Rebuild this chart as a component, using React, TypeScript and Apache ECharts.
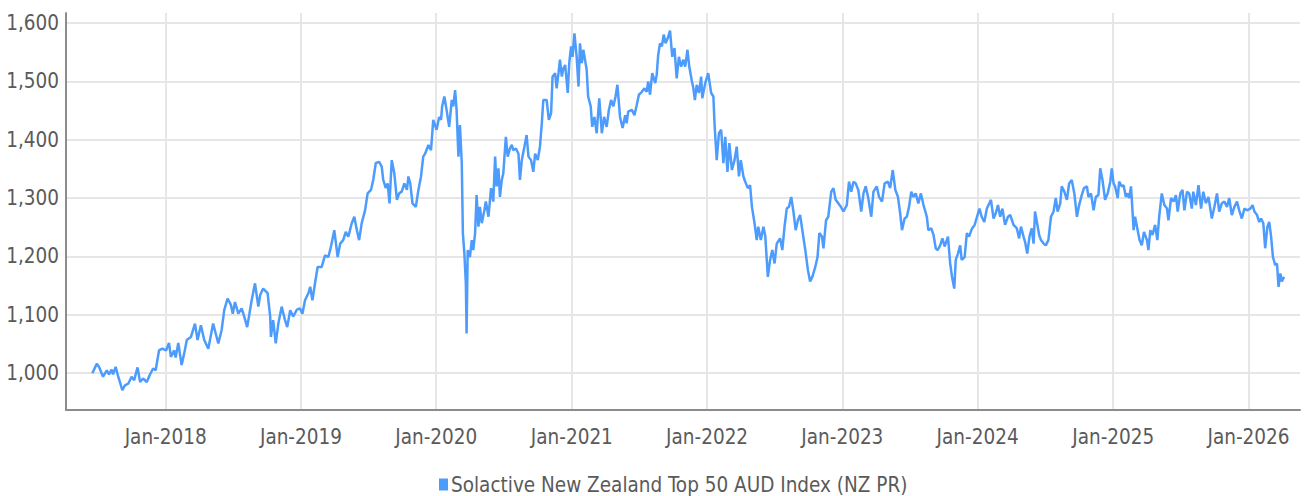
import React, { useEffect, useRef } from "react";
import * as echarts from "echarts";

const seriesName = "Solactive New Zealand Top 50 AUD Index (NZ PR)";

const dates2017 = ["2017-06-17","2017-06-29","2017-07-05","2017-07-16","2017-07-26","2017-08-01","2017-08-08","2017-08-12","2017-08-19","2017-08-26","2017-09-06","2017-09-13","2017-09-22","2017-10-01","2017-10-08","2017-10-17","2017-10-24","2017-11-01","2017-11-11","2017-11-19","2017-11-28","2017-12-05","2017-12-14","2017-12-23"];
const values2017 = [1000,1016,1011,994,1005,998,1006,998,1011,994,971,979,982,994,988,1010,985,991,985,997,1008,1005,1039,1042];

const dates2018 = ["2018-01-02","2018-01-10","2018-01-15","2018-01-24","2018-01-28","2018-02-04","2018-02-13","2018-02-20","2018-02-27","2018-03-10","2018-03-21","2018-03-28","2018-04-06","2018-04-15","2018-04-26","2018-05-09","2018-05-16","2018-05-23","2018-06-01","2018-06-08","2018-06-17","2018-06-26","2018-07-01","2018-07-07","2018-07-16","2018-07-25","2018-08-01","2018-08-09","2018-08-21","2018-08-30","2018-09-08","2018-09-13","2018-09-21","2018-10-03","2018-10-10","2018-10-12","2018-10-18","2018-10-25","2018-11-01","2018-11-10","2018-11-19","2018-11-25","2018-12-03","2018-12-11","2018-12-21","2018-12-29"];
const values2018 = [1039,1052,1028,1039,1027,1052,1014,1034,1057,1062,1085,1057,1082,1057,1042,1085,1068,1051,1074,1108,1128,1117,1102,1122,1102,1111,1097,1079,1125,1154,1114,1134,1145,1137,1097,1062,1091,1051,1085,1114,1091,1079,1108,1097,1109,1111];

const dates2019 = ["2019-01-05","2019-01-12","2019-01-21","2019-01-26","2019-02-01","2019-02-08","2019-02-15","2019-02-26","2019-03-07","2019-03-16","2019-03-23","2019-04-01","2019-04-10","2019-04-17","2019-04-25","2019-05-02","2019-05-09","2019-05-18","2019-05-25","2019-06-01","2019-06-07","2019-06-14","2019-06-23","2019-06-30","2019-07-09","2019-07-15","2019-07-22","2019-07-31","2019-08-07","2019-08-11","2019-08-18","2019-08-23","2019-08-28","2019-09-03","2019-09-10","2019-09-17","2019-09-23","2019-09-30","2019-10-07","2019-10-14","2019-10-18","2019-10-23","2019-10-29","2019-11-07","2019-11-14","2019-11-21","2019-11-27","2019-12-02","2019-12-11","2019-12-18","2019-12-24"];
const values2019 = [1102,1125,1137,1148,1125,1154,1182,1182,1202,1199,1217,1245,1199,1222,1228,1242,1234,1257,1268,1245,1228,1257,1279,1308,1314,1331,1360,1362,1354,1331,1317,1325,1291,1365,1342,1297,1308,1311,1325,1314,1337,1325,1291,1285,1314,1337,1371,1376,1391,1382,1434];

const dates2020 = ["2020-01-02","2020-01-09","2020-01-14","2020-01-17","2020-01-23","2020-01-29","2020-02-05","2020-02-12","2020-02-16","2020-02-21","2020-02-25","2020-03-01","2020-03-05","2020-03-10","2020-03-13","2020-03-17","2020-03-21","2020-03-23","2020-03-26","2020-04-01","2020-04-06","2020-04-10","2020-04-15","2020-04-19","2020-04-24","2020-04-28","2020-05-03","2020-05-10","2020-05-14","2020-05-21","2020-05-28","2020-06-03","2020-06-08","2020-06-12","2020-06-17","2020-06-21","2020-06-26","2020-06-30","2020-07-07","2020-07-12","2020-07-18","2020-07-23","2020-07-27","2020-08-03","2020-08-10","2020-08-14","2020-08-19","2020-08-26","2020-09-01","2020-09-06","2020-09-13","2020-09-19","2020-09-24","2020-10-01","2020-10-07","2020-10-12","2020-10-16","2020-10-25","2020-10-31","2020-11-06","2020-11-10","2020-11-17","2020-11-21","2020-11-26","2020-11-30","2020-12-05","2020-12-09","2020-12-14","2020-12-21","2020-12-25","2020-12-30"];
const values2020 = [1417,1439,1434,1457,1474,1451,1422,1468,1457,1485,1451,1371,1425,1360,1240,1205,1154,1068,1211,1199,1228,1211,1240,1305,1251,1285,1257,1279,1294,1268,1317,1294,1371,1320,1351,1302,1331,1342,1405,1371,1385,1391,1382,1385,1376,1331,1365,1388,1408,1371,1365,1345,1376,1365,1388,1428,1468,1468,1434,1445,1508,1514,1488,1514,1537,1508,1522,1528,1480,1531,1560];

const dates2021 = ["2021-01-03","2021-01-08","2021-01-14","2021-01-19","2021-01-23","2021-01-28","2021-02-01","2021-02-10","2021-02-14","2021-02-21","2021-02-25","2021-03-03","2021-03-09","2021-03-16","2021-03-23","2021-03-29","2021-04-05","2021-04-11","2021-04-17","2021-04-23","2021-04-29","2021-05-04","2021-05-11","2021-05-18","2021-05-25","2021-05-29","2021-06-02","2021-06-12","2021-06-19","2021-06-25","2021-07-01","2021-07-09","2021-07-16","2021-07-22","2021-07-26","2021-07-31","2021-08-06","2021-08-14","2021-08-18","2021-08-22","2021-08-27","2021-09-01","2021-09-06","2021-09-11","2021-09-17","2021-09-23","2021-09-29","2021-10-05","2021-10-11","2021-10-17","2021-10-23","2021-10-29","2021-11-03","2021-11-09","2021-11-14","2021-11-21","2021-11-25","2021-11-29","2021-12-04","2021-12-10","2021-12-16","2021-12-19","2021-12-27"];
const values2021 = [1542,1582,1542,1491,1565,1531,1554,1520,1474,1457,1422,1439,1411,1471,1411,1439,1422,1451,1468,1457,1474,1494,1439,1420,1442,1428,1448,1451,1442,1459,1477,1482,1488,1482,1500,1477,1514,1497,1511,1545,1565,1560,1580,1565,1574,1587,1542,1557,1505,1542,1525,1537,1525,1554,1525,1500,1488,1468,1494,1480,1508,1471,1497];

const dates2022 = ["2022-01-04","2022-01-12","2022-01-18","2022-01-21","2022-01-27","2022-02-02","2022-02-08","2022-02-14","2022-02-19","2022-02-25","2022-03-02","2022-03-09","2022-03-16","2022-03-22","2022-03-28","2022-04-02","2022-04-09","2022-04-14","2022-04-21","2022-04-27","2022-05-02","2022-05-09","2022-05-15","2022-05-19","2022-05-26","2022-06-02","2022-06-07","2022-06-14","2022-06-20","2022-06-26","2022-07-02","2022-07-08","2022-07-17","2022-07-23","2022-07-29","2022-08-04","2022-08-10","2022-08-16","2022-08-22","2022-08-28","2022-09-03","2022-09-09","2022-09-15","2022-09-23","2022-09-30","2022-10-06","2022-10-12","2022-10-20","2022-10-26","2022-10-31","2022-11-07","2022-11-11","2022-11-18","2022-11-24","2022-12-02","2022-12-08","2022-12-14","2022-12-21","2022-12-28"];
const values2022 = [1514,1480,1474,1428,1365,1411,1417,1360,1405,1345,1394,1348,1365,1388,1337,1365,1337,1328,1317,1322,1285,1257,1228,1251,1228,1251,1235,1165,1194,1211,1188,1222,1231,1211,1251,1282,1285,1302,1277,1245,1262,1271,1245,1211,1177,1157,1165,1182,1199,1240,1234,1214,1262,1268,1311,1317,1297,1291,1285];

const dates2023 = ["2023-01-04","2023-01-13","2023-01-19","2023-01-25","2023-01-31","2023-02-06","2023-02-13","2023-02-21","2023-02-27","2023-03-05","2023-03-12","2023-03-20","2023-03-26","2023-04-04","2023-04-10","2023-04-18","2023-04-25","2023-05-04","2023-05-10","2023-05-17","2023-05-24","2023-05-31","2023-06-06","2023-06-11","2023-06-18","2023-06-24","2023-06-30","2023-07-06","2023-07-12","2023-07-18","2023-07-25","2023-08-01","2023-08-08","2023-08-17","2023-08-21","2023-08-29","2023-09-04","2023-09-10","2023-09-15","2023-09-22","2023-09-28","2023-10-04","2023-10-13","2023-10-19","2023-10-24","2023-10-30","2023-11-03","2023-11-09","2023-11-15","2023-11-19","2023-11-27","2023-12-03","2023-12-09","2023-12-17","2023-12-24","2023-12-29"];
const values2023 = [1277,1288,1328,1311,1328,1325,1314,1277,1308,1320,1300,1268,1311,1320,1302,1294,1325,1328,1317,1348,1314,1302,1274,1245,1265,1268,1285,1311,1302,1308,1291,1308,1288,1268,1245,1248,1237,1214,1211,1219,1231,1217,1234,1188,1165,1145,1194,1205,1219,1194,1199,1240,1234,1248,1254,1265];

const dates2024 = ["2024-01-06","2024-01-12","2024-01-19","2024-01-26","2024-02-06","2024-02-13","2024-02-19","2024-02-25","2024-03-02","2024-03-08","2024-03-15","2024-03-23","2024-03-29","2024-04-07","2024-04-16","2024-04-22","2024-04-27","2024-05-04","2024-05-08","2024-05-14","2024-05-20","2024-05-26","2024-05-31","2024-06-04","2024-06-09","2024-06-15","2024-06-20","2024-06-27","2024-07-03","2024-07-10","2024-07-17","2024-07-24","2024-07-30","2024-08-04","2024-08-11","2024-08-15","2024-08-22","2024-08-29","2024-09-04","2024-09-11","2024-09-18","2024-09-25","2024-10-01","2024-10-08","2024-10-14","2024-10-22","2024-10-26","2024-11-02","2024-11-09","2024-11-15","2024-11-22","2024-11-27","2024-12-03","2024-12-10","2024-12-17","2024-12-24","2024-12-28"];
const values2024 = [1282,1268,1259,1282,1297,1265,1274,1288,1268,1282,1254,1268,1271,1254,1248,1231,1251,1234,1225,1205,1234,1248,1222,1277,1259,1237,1228,1222,1219,1228,1268,1277,1300,1277,1291,1320,1311,1297,1325,1331,1308,1268,1288,1305,1317,1320,1302,1308,1279,1302,1305,1351,1331,1297,1308,1328,1351];

const dates2025 = ["2025-01-02","2025-01-06","2025-01-13","2025-01-17","2025-01-24","2025-01-29","2025-02-04","2025-02-09","2025-02-13","2025-02-18","2025-02-25","2025-03-01","2025-03-07","2025-03-13","2025-03-19","2025-03-25","2025-04-02","2025-04-06","2025-04-11","2025-04-17","2025-04-24","2025-04-30","2025-05-05","2025-05-12","2025-05-19","2025-05-26","2025-05-30","2025-06-06","2025-06-13","2025-06-19","2025-06-24","2025-07-01","2025-07-07","2025-07-12","2025-07-19","2025-07-25","2025-08-01","2025-08-05","2025-08-12","2025-08-19","2025-08-26","2025-09-01","2025-09-08","2025-09-15","2025-09-24","2025-10-01","2025-10-08","2025-10-14","2025-10-21","2025-10-28","2025-11-04","2025-11-10","2025-11-17","2025-11-24","2025-12-01","2025-12-07","2025-12-14","2025-12-21","2025-12-28"];
const values2025 = [1325,1320,1300,1328,1320,1322,1302,1308,1300,1320,1245,1268,1248,1228,1219,1242,1228,1211,1245,1237,1254,1228,1268,1308,1288,1282,1262,1300,1294,1305,1277,1308,1314,1279,1311,1308,1282,1311,1288,1322,1282,1311,1291,1302,1265,1285,1308,1277,1291,1294,1285,1300,1271,1285,1294,1279,1265,1282,1279];

const dates2026 = ["2026-01-06","2026-01-12","2026-01-17","2026-01-24","2026-01-30","2026-02-04","2026-02-10","2026-02-15","2026-02-21","2026-02-26","2026-03-03","2026-03-08","2026-03-14","2026-03-19","2026-03-23","2026-03-28","2026-04-01","2026-04-07"];
const values2026 = [1282,1288,1277,1271,1259,1265,1257,1214,1251,1259,1234,1199,1185,1188,1148,1171,1157,1165];

const yTickValues = [1000, 1100, 1200, 1300, 1400, 1500, 1600];
const xTickDates = ["2018-01-01", "2019-01-01", "2020-01-01", "2021-01-01", "2022-01-01", "2023-01-01", "2024-01-01", "2025-01-01", "2026-01-01"];
const xMin = "2017-04-07";
const xMax = "2026-05-20";
const yMin = 937;
const yMax = 1617;

const FONT = "'Liberation Sans Narrow', 'DejaVu Sans Condensed', 'Roboto', sans-serif";

function toTime(s: string): number {
  const [y, m, d] = s.split("-").map(Number);
  return Date.UTC(y, m - 1, d);
}

export default function App() {
  const ref = useRef<HTMLDivElement>(null);
  useEffect(() => {
    if (!ref.current) return;
    const chart = echarts.init(ref.current, undefined, { renderer: "svg" });
    const allDates = [dates2017, dates2018, dates2019, dates2020, dates2021, dates2022, dates2023, dates2024, dates2025, dates2026].flat();
    const allValues = [values2017, values2018, values2019, values2020, values2021, values2022, values2023, values2024, values2025, values2026].flat();
    const data = allDates.map((d, i) => [toTime(d), allValues[i]]);
    const xTicks = xTickDates.map(toTime);
    chart.setOption({
      animation: false,
      backgroundColor: "#ffffff",
      textStyle: { fontFamily: FONT },
      grid: { left: 66, right: 6, top: 13, bottom: 86, containLabel: false },
      legend: {
        data: [{ name: seriesName, icon: "rect" }],
        left: 434,
        top: 469,
        itemWidth: 9,
        itemHeight: 12,
        itemGap: 10,
        textStyle: { fontFamily: FONT, fontSize: 20.5, color: "#5a5a5a", padding: [0, 0, 0, -2] },
      },
      xAxis: {
        type: "value",
        min: toTime(xMin),
        max: toTime(xMax),
        axisLine: { show: true, lineStyle: { color: "#8c8c8c", width: 2 } },
        axisTick: { show: false, customValues: xTicks },
        axisLabel: {
          customValues: xTicks,
          formatter: (v: number) => "Jan-" + new Date(v).getUTCFullYear(),
          fontFamily: FONT,
          fontSize: 20.5,
          color: "#5a5a5a",
          margin: 16,
        },
        splitLine: { show: true, lineStyle: { color: "#e6e6e6", width: 2 } },
      },
      yAxis: {
        type: "value",
        min: yMin,
        max: yMax,
        axisLine: { show: true, lineStyle: { color: "#8c8c8c", width: 2 } },
        axisTick: { show: false, customValues: yTickValues },
        axisLabel: {
          customValues: yTickValues,
          formatter: (v: number) => v.toLocaleString("en-US"),
          fontFamily: FONT,
          fontSize: 20.5,
          color: "#5a5a5a",
          margin: 7,
        },
        splitLine: { show: true, lineStyle: { color: "#e6e6e6", width: 2 } },
      },
      series: [
        {
          name: seriesName,
          type: "line",
          data,
          showSymbol: false,
          symbol: "none",
          lineStyle: { color: "#4d9cfd", width: 2.5 },
          itemStyle: { color: "#4d9cfd" },
        },
      ],
    });
    return () => chart.dispose();
  }, []);
  return <div ref={ref} style={{ position: "fixed", left: 0, top: 0, width: 1306, height: 496 }} />;
}
